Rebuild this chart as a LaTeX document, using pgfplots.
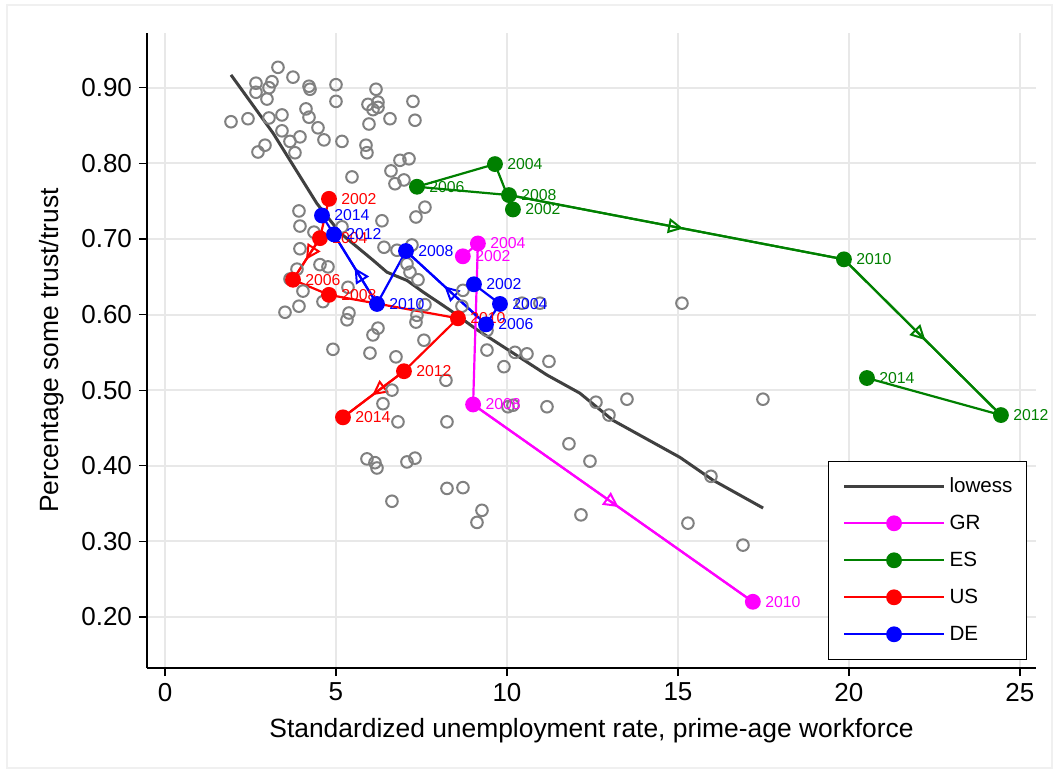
\documentclass[border=0pt]{standalone}
\usepackage{fontspec}
\setmainfont{Liberation Sans}
\usepackage{pgfplots}
\pgfplotsset{compat=1.18}
\usetikzlibrary{arrows.meta,decorations.markings}

\definecolor{scgray}{HTML}{808080}
\definecolor{lowgray}{HTML}{404040}
\definecolor{grgrid}{HTML}{E8E8E8}
\definecolor{grc}{HTML}{FF00FF}
\definecolor{esc}{HTML}{008000}
\definecolor{usc}{HTML}{FF0000}
\definecolor{dec}{HTML}{0000FF}

\pgfplotsset{
  legend image code/.code={\draw[mark repeat=2,mark phase=2,#1] plot coordinates {(0pt,0pt) (25pt,0pt) (50pt,0pt)};},
  country/.style={color=#1, line width=1.1pt, mark=*, mark size=3.4pt, mark options={solid, fill=#1}},
  mid arrow/.style={color=#1, line width=1.1pt, mark=none, forget plot,
    postaction={decorate},
    decoration={markings, mark=at position 0.52 with {\arrow{Triangle[open, length=7.5pt, width=7.5pt, line width=1pt]}}}},
  yearlab/.style={draw=none, mark=none, forget plot, nodes near coords, point meta=explicit symbolic,
    nodes near coords style={anchor=west, inner sep=0pt, xshift=6pt, text=#1, font=\fontsize{7.9}{9}\selectfont}},
}

\pgfplotstableread{
x y
3.304 0.927
3.743 0.914
2.661 0.906
3.129 0.908
2.661 0.894
3.041 0.900
2.982 0.885
4.211 0.902
4.240 0.898
5.000 0.904
5.000 0.882
6.170 0.898
5.936 0.878
6.228 0.881
6.228 0.874
6.082 0.871
7.251 0.882
7.310 0.857
6.579 0.859
5.965 0.852
1.930 0.855
2.427 0.859
3.041 0.860
3.421 0.864
4.123 0.872
4.211 0.861
4.474 0.847
3.421 0.843
3.655 0.829
3.947 0.835
4.649 0.831
5.175 0.829
5.877 0.824
5.906 0.814
2.924 0.824
2.719 0.815
3.801 0.814
5.468 0.782
6.608 0.790
6.871 0.804
7.135 0.806
6.988 0.778
6.725 0.773
7.602 0.742
7.339 0.729
6.345 0.724
3.918 0.737
3.947 0.717
4.357 0.709
5.175 0.716
6.404 0.689
6.784 0.685
7.222 0.692
3.947 0.687
4.532 0.666
4.766 0.663
3.860 0.660
3.655 0.647
4.035 0.631
4.620 0.617
3.918 0.611
3.509 0.603
5.351 0.636
5.380 0.602
5.322 0.593
7.076 0.667
7.164 0.656
7.398 0.646
7.602 0.613
7.368 0.599
7.339 0.590
6.228 0.582
6.082 0.573
4.912 0.554
5.994 0.549
6.754 0.544
7.573 0.566
8.216 0.513
6.637 0.500
6.374 0.482
6.813 0.458
8.246 0.458
8.713 0.632
8.684 0.611
5.906 0.409
6.140 0.404
6.199 0.397
7.076 0.405
7.310 0.410
8.246 0.370
8.713 0.371
6.637 0.353
9.415 0.579
9.415 0.553
10.234 0.550
10.585 0.548
11.228 0.538
10.439 0.615
10.965 0.615
15.117 0.615
9.912 0.531
10.175 0.480
10.029 0.478
11.170 0.478
12.602 0.484
13.509 0.488
12.982 0.467
17.485 0.488
11.813 0.429
12.427 0.406
15.965 0.386
9.269 0.341
9.123 0.325
12.164 0.335
15.292 0.324
16.901 0.295
}\scatterdata

\pgfplotstableread{
x y
1.93 0.917
3.16 0.840
4.44 0.747
5.12 0.708
6.08 0.672
6.49 0.656
7.08 0.645
7.54 0.630
8.33 0.606
9.12 0.580
10.18 0.549
11.17 0.520
12.13 0.496
13.10 0.460
15.06 0.411
16.02 0.381
17.49 0.344
}\lowessdata

\pgfplotstableread{
x y lab
8.71 0.677 2002
9.15 0.694 2004
9.01 0.481 2008
17.19 0.220 2010
}\grdata

\pgfplotstableread{
x y lab
10.175 0.739 2002
9.649 0.799 2004
7.368 0.769 2006
10.058 0.758 2008
19.854 0.673 2010
24.444 0.467 2012
20.526 0.516 2014
}\esdata

\pgfplotstableread{
x y lab
4.795 0.753 2002
4.532 0.701 2004
3.743 0.646 2006
4.795 0.626 2008
8.567 0.595 2010
6.988 0.525 2012
5.205 0.464 2014
}\usdata

\pgfplotstableread{
x y lab
9.035 0.640 2002
9.795 0.614 2004
9.386 0.587 2006
7.047 0.684 2008
6.199 0.614 2010
4.942 0.706 2012
4.591 0.731 2014
}\dedata

\begin{document}
\begin{tikzpicture}
\useasboundingbox (-73.5pt,-52.5pt) rectangle (456pt,334pt);
\draw[gray!12, line width=0.6pt] (-70pt,-50pt) rectangle (452.5pt,331.5pt);
\begin{axis}[
  at={(0,0)}, anchor=south west,
  scale only axis,
  width=444.5pt, height=317.5pt,
  xmin=-0.526, xmax=25.47,
  ymin=0.1324, ymax=0.9724,
  axis x line=bottom, axis y line=left,
  axis line style={-, black, line width=0.6pt},
  xtick={0,5,10,15,20,25},
  ytick={0.2,0.3,0.4,0.5,0.6,0.7,0.8,0.9},
  yticklabel style={/pgf/number format/fixed, /pgf/number format/fixed zerofill, /pgf/number format/precision=2},
  /pgf/number format/assume math mode=true,
  tick label style={font=\fontsize{13}{15}\selectfont},
  tick align=outside,
  major tick length=4pt,
  tick style={black, line width=0.6pt},
  grid=major,
  major grid style={grgrid, line width=1pt},
  clip=false,
  xlabel={Standardized unemployment rate, prime-age workforce},
  ylabel={Percentage some trust/trust},
  label style={font=\fontsize{13.2}{15}\selectfont},
  xlabel style={at={(axis description cs:0.5,-0.1087)}, anchor=base},
  ylabel style={at={(axis description cs:-0.107,0.5)}, anchor=center},
  legend style={at={(0.9899,0.326)}, anchor=north east, draw=black, line width=0.5pt,
    font=\fontsize{10.3}{12}\selectfont, inner xsep=7pt, inner ysep=8pt,
    row sep=9.7pt, column sep=2pt,
    nodes={inner sep=0pt, text height=7.4pt, text depth=1.4pt}},
  legend cell align=left,
]
\addplot[only marks, mark=o, mark size=2.9pt, color=scgray, mark options={line width=1pt}, forget plot] table {\scatterdata};
\addplot[color=lowgray, line width=1.5pt, mark=none] table {\lowessdata};
\addlegendentry{lowess}

\addplot[country=grc] table[x=x,y=y] {\grdata};
\addlegendentry{GR}
\addplot[mid arrow=grc] coordinates {(9.01,0.481) (17.19,0.220)};
\addplot[yearlab=grc] table[x=x,y=y,meta=lab] {\grdata};

\addplot[country=esc] table[x=x,y=y] {\esdata};
\addlegendentry{ES}
\addplot[mid arrow=esc] coordinates {(10.058,0.758) (19.854,0.673)};
\addplot[mid arrow=esc] coordinates {(19.854,0.673) (24.444,0.467)};
\addplot[yearlab=esc] table[x=x,y=y,meta=lab] {\esdata};

\addplot[country=usc] table[x=x,y=y] {\usdata};
\addlegendentry{US}
\addplot[mid arrow=usc] coordinates {(4.532,0.701) (3.743,0.646)};
\addplot[mid arrow=usc] coordinates {(6.988,0.525) (5.205,0.464)};
\addplot[yearlab=usc] table[x=x,y=y,meta=lab] {\usdata};

\addplot[country=dec] table[x=x,y=y] {\dedata};
\addlegendentry{DE}
\addplot[mid arrow=dec] coordinates {(9.386,0.587) (7.047,0.684)};
\addplot[mid arrow=dec] coordinates {(6.199,0.614) (4.942,0.706)};
\addplot[yearlab=dec] table[x=x,y=y,meta=lab] {\dedata};
\end{axis}
\end{tikzpicture}
\end{document}
